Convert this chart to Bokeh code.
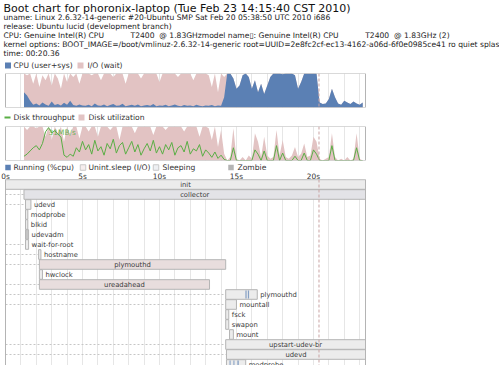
import numpy as np
from bokeh.plotting import figure
from bokeh.layouts import column
from bokeh.models import Range1d, Span, Grid, SingleIntervalTicker
from bokeh.core.properties import value
from bokeh.embed import file_html
from bokeh.resources import INLINE

# ---------------- data ----------------
NB = "\u00a0"
TITLE = "Boot chart for phoronix-laptop (Tue Feb 23 14:15:40 CST 2010)"
INFO = [
    "uname: Linux 2.6.32-14-generic #20-Ubuntu SMP Sat Feb 20 05:38:50 UTC 2010 i686",
    "release: Ubuntu lucid (development branch)",
    "CPU: Genuine Intel(R) CPU" + NB * 11 + "T2400" + NB * 2 + "@ 1.83GHzmodel name\u25af: Genuine Intel(R) CPU"
    + NB * 11 + "T2400" + NB * 2 + "@ 1.83GHz (2)",
    "kernel options: BOOT_IMAGE=/boot/vmlinuz-2.6.32-14-generic root=UUID=2e8fc2cf-ec13-4162-a06d-6f0e0985ce41 ro quiet splash",
    "time: 00:20.36",
]
END_TIME = 20.36          # seconds (dashed marker)
SAMPLE_START = 1.2        # first sample (s)
SAMPLE_STEP = 0.2         # sampling interval (s)

cpu_user_sys = [45, 35, 20,
                8, 12, 6, 15, 9, 5, 18, 7, 10, 6, 14, 8, 20, 7, 5, 9, 6,
                5, 8, 4, 12, 6, 5, 9, 4, 7, 10, 5, 6, 11, 4, 6, 8, 5, 9, 4, 6,
                7, 5, 10, 4, 6, 5, 8, 4, 6, 9, 5, 4, 7, 5, 6, 4, 8, 5, 4, 6,
                5, 7, 4, 6, 5,
                30, 100, 100, 85, 55, 65, 95, 100, 90,
                55, 80, 45, 70, 40, 65,
                90, 100, 100, 100, 98, 100, 100, 100, 95, 55, 75, 100, 100, 100, 100, 100, 15,
                10, 12, 25, 55, 30, 12, 8, 20, 15, 10, 18, 12, 8, 15]
io_wait = [55, 60, 80,
           62, 88, 54, 80, 71, 95, 47, 93, 75, 49, 86, 67, 80, 83, 95, 61, 94,
           95, 92, 91, 88, 94, 75, 91, 96, 93, 80, 95, 94, 89, 66, 94, 92, 95, 91, 81, 94,
           93, 95, 90, 96, 69, 95, 92, 96, 94, 91, 85, 96, 93, 95, 94, 76, 92, 95, 96, 94, 90,
           53, 96, 39, 95,
           60,
           0, 0, 0, 0, 0, 0, 0, 0, 0, 0, 0, 0, 0, 0, 0, 0, 0, 0, 0, 0, 0, 0, 0,
           0, 0, 0, 0, 0, 0, 0, 0, 0, 0, 0, 0, 0, 0, 0, 0, 0, 0, 0, 0, 0, 0]
disk_util = [100, 90, 100, 100, 95, 100, 100, 70, 100, 60, 100, 80, 100, 55, 100, 75, 100, 100, 65, 100,
             100, 85, 100, 100, 70, 100, 100, 100, 90, 100, 100, 60, 100, 100, 100, 100, 80, 100, 100, 100,
             100, 100, 75, 100, 100, 100, 90, 100, 100, 100, 100, 100, 85, 100, 100, 100, 100, 70, 100, 100, 95,
             60, 100, 40, 90,
             20, 0, 10, 95, 5, 0, 10, 0, 15, 5, 80, 55, 10, 70, 15, 5, 10, 90, 15, 60, 10, 5, 15,
             40, 10, 20, 50, 10, 15, 70, 55, 5, 0, 5, 10, 80, 10, 0, 5, 0, 10, 0, 5, 80, 5, 0]
disk_tput = [4, 6, 9, 12, 14, 10, 16, 27, 31, 26, 28, 25, 22, 5, 3, 6, 4, 12, 8, 18,
             10, 15, 6, 19, 9, 13, 5, 16, 11, 20, 7, 14, 17, 6, 12, 18, 8, 15, 5, 11,
             16, 9, 19, 7, 13, 6, 15, 10, 17, 5, 12, 14, 8, 18, 6, 11, 9, 15, 4, 10, 7,
             3, 8, 2, 5,
             1, 0, 0, 12, 0, 0, 0, 0, 0, 0, 10, 6, 0, 9, 0, 0, 0, 14, 0, 7, 0, 0, 0,
             4, 0, 0, 7, 0, 0, 10, 6, 0, 0, 0, 0, 14, 0, 0, 0, 0, 0, 0, 0, 12, 0, 0]

proc_names = ["init", "collector", "udevd", "modprobe", "blkid", "udevadm", "wait-for-root",
              "hostname", "plymouthd", "hwclock", "ureadahead", "plymouthd", "mountall", "fsck",
              "swapon", "mount", "upstart-udev-br", "udevd", "modprobe"]
proc_start = [0.0, 1.2, 1.3, 1.3, 1.3, 1.3, 1.3, 2.15, 2.2, 2.2, 2.2,
              14.3, 14.3, 14.3, 14.3, 14.55, 14.3, 14.35, 14.35]
proc_end = [23.38, 23.38, 1.65, 1.45, 1.45, 1.5, 1.5, 2.3, 14.3, 2.4, 13.25,
            16.35, 15.0, 14.5, 14.5, 14.8, 23.38, 23.38, 15.6]
proc_state = ["S", "C", "S", "S", "S", "R", "S", "S", "D", "S", "D",
              "S", "S", "S", "S", "S", "S", "S", "S"]
run_row = [11, 11, 18, 18, 18]
run_start = [15.58, 15.74, 14.55, 14.8, 15.06]
run_end = [15.66, 15.82, 14.62, 14.87, 15.15]
dep_row = [1, 2, 6, 7, 8, 10, 11, 12, 16, 17]
dep_from = [0.0, 0.0, 0.0, 0.0, 0.0, 0.0, 0.0, 0.0, 0.0, 0.0]
dep_to = [1.2, 1.3, 1.3, 2.15, 2.2, 2.2, 14.3, 14.3, 14.3, 14.35]

tick_seconds = [0, 5, 10, 15, 20]
tick_labels = ["0s", "5s", "10s", "15s", "20s"]

# ---------------- style / layout ----------------
W = 499
T_END = 23.38             # right edge of the time charts (s)
PL, PR = 5, 134           # pixel margins of the time charts
PW = W - PL - PR
FONT = value("DejaVu Sans")
BLUE = "#5b80b4"
PINK = "#e2c3c3"
GREEN = "#5aae45"
BORDER = "#b4b4b4"
TXT = "#222222"
STATE_FILL = {"S": "#ececec", "C": "#e3e3e7", "D": "#e8dddd", "R": "#c4c4c4"}


def time_range():
    # full-width frame; the chart box (0..T_END) sits PL px from the left
    return Range1d(-PL * T_END / PW, (W - PL) * T_END / PW)


def make_fig(h, xr, yr, t=0, b=0):
    p = figure(width=W, height=h, x_range=xr, y_range=yr, output_backend="svg",
               toolbar_location=None, x_axis_location=None, y_axis_location=None,
               min_border=0, min_border_left=0, min_border_right=0,
               min_border_top=t, min_border_bottom=b,
               background_fill_color="white", border_fill_color="white")
    for g in p.grid:
        g.visible = False
    p.outline_line_color = None
    return p


def sec_grid(p):
    p.add_layout(Grid(dimension=0, ticker=SingleIntervalTicker(interval=1), bounds=(0, T_END),
                      grid_line_color="#e6e6e6", grid_line_width=1))


def end_marker(p):
    p.add_layout(Span(location=END_TIME, dimension="height", line_color="#c9a3a3",
                      line_dash="3 2", line_width=1))


def txt(p, xs, ys, texts, size, color=TXT, align="left", **kw):
    p.text(x=xs, y=ys, text=texts, text_font=FONT, text_font_size=value(size),
           text_color=color, text_align=align, text_baseline="middle", **kw)


t = np.round(SAMPLE_START + SAMPLE_STEP * np.arange(len(cpu_user_sys)), 2)
cpu = np.array(cpu_user_sys, float)
io = np.array(io_wait, float)

# ---- header ----
hdr = make_fig(70, Range1d(0, W), Range1d(70, 0))
txt(hdr, [3], [8], [TITLE], "11px", color="#111111")
txt(hdr, [3] * len(INFO), [17, 26, 35, 44, 53], INFO, "7.6px")
hdr.rect(x=[7.5, 80], y=[65, 65], width=6, height=6, fill_color=[BLUE, PINK], line_color=None)
txt(hdr, [13, 87], [65, 65], ["CPU (user+sys)", "I/O (wait)"], "7.6px", color="#333333")

# ---- CPU chart ----
cpuf = make_fig(38, time_range(), Range1d(0, 100), t=3, b=1)
sec_grid(cpuf)
cpuf.varea(x=t, y1=0, y2=cpu + io, fill_color=PINK)
cpuf.varea(x=t, y1=0, y2=cpu, fill_color=BLUE)
end_marker(cpuf)
cpuf.quad(left=[0], right=[T_END], bottom=[0], top=[100], fill_color=None, line_color=BORDER)

# ---- disk legend ----
leg2 = make_fig(16, Range1d(0, W), Range1d(124, 108))
leg2.segment(x0=[4], y0=[117], x1=[10], y1=[117], line_color=GREEN, line_width=2)
leg2.rect(x=[81], y=[117], width=6, height=6, fill_color=PINK, line_color=None)
txt(leg2, [13, 88], [117, 117], ["Disk throughput", "Disk utilization"], "7.6px", color="#333333")

# ---- disk chart ----
tput = np.array(disk_tput, float)
diskf = make_fig(37, time_range(), Range1d(0, 100), t=2, b=1)
diskf.extra_y_ranges = {"tput": Range1d(0, 32)}
sec_grid(diskf)
diskf.varea(x=t, y1=0, y2=np.array(disk_util, float), fill_color=PINK)
diskf.line(x=t, y=tput, y_range_name="tput", line_color=GREEN, line_width=1)
imax = int(np.argmax(tput))
diskf.text(x=[t[imax]], y=[tput[imax]], text=["%dMB/s" % tput[imax]], y_range_name="tput",
           text_font=FONT, text_font_size=value("7.4px"), text_color=GREEN,
           text_baseline="top", text_align="left", text_alpha=0.9)
end_marker(diskf)
diskf.quad(left=[0], right=[T_END], bottom=[0], top=[100], fill_color=None, line_color=BORDER)

# ---- process legend + time labels ----
leg3 = make_fig(18, Range1d(0, W), Range1d(179, 161))
leg3.extra_x_ranges = {"time": time_range()}
leg3.rect(x=[7.5, 82.5, 155.5, 230.5], y=[167] * 4, width=5.5, height=5.5,
          fill_color=[BLUE, "#f6eeee", "#eef0f3", "#b4b4b4"],
          line_color=[None, "#c8c8c8", "#c8c8c8", None])
txt(leg3, [13, 88, 162, 237], [167] * 4,
    ["Running (%cpu)", "Unint.sleep (I/O)", "Sleeping", "Zombie"], "7.6px", color="#333333")
leg3.text(x=tick_seconds, y=[175.5] * len(tick_seconds), text=tick_labels, x_range_name="time",
          text_font=FONT, text_font_size=value("7.4px"), text_color="#333333",
          text_align="center", text_baseline="middle")

# ---- process chart ----
rows = np.arange(len(proc_names))
ps = np.array(proc_start)
pe = np.array(proc_end)
proc = make_fig(186, time_range(), Range1d(18.6, 0))
sec_grid(proc)
proc.segment(x0=dep_from, y0=np.array(dep_row) + 0.5, x1=dep_to, y1=np.array(dep_row) + 0.5,
             line_color="#c6c6c6", line_dash="2 2", line_width=1)
proc.quad(left=ps, right=pe, top=rows + 0.02, bottom=rows + 0.98,
          fill_color=[STATE_FILL[s] for s in proc_state], line_color=BORDER, line_width=1)
proc.quad(left=run_start, right=run_end, top=np.array(run_row) + 0.1, bottom=np.array(run_row) + 0.9,
          fill_color=BLUE, fill_alpha=0.7, line_color=None)
end_marker(proc)
proc.segment(x0=[0, T_END, 0], y0=[0, 0, 0], x1=[0, T_END, T_END], y1=[18.6, 18.6, 0],
             line_color=BORDER, line_width=1)

dur = pe - ps
long_ = dur > 3
txt(proc, list((ps[long_] + pe[long_]) / 2), list(rows[long_] + 0.5),
    [n for n, k in zip(proc_names, long_) if k], "6.8px", color="#3a3a3a", align="center")
txt(proc, list(pe[~long_]), list(rows[~long_] + 0.5),
    [n for n, k in zip(proc_names, long_) if not k], "6.8px", color="#3a3a3a", x_offset=3)

layout = column(hdr, cpuf, leg2, diskf, leg3, proc, spacing=0)
open("out.html", "w").write(file_html(layout, INLINE))
